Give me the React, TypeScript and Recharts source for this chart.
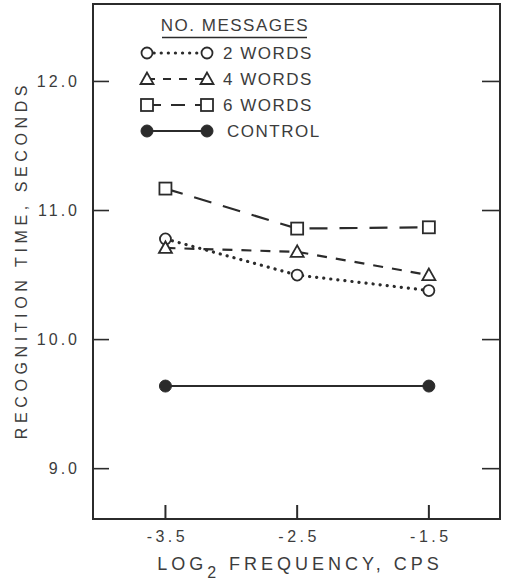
import { Line, LineChart, ReferenceArea, ReferenceLine, XAxis, YAxis } from "recharts";

// log2 frequency (cps) on x, recognition time (s) on y
const frequencies = [-3.5, -2.5, -1.5];
const twoWords = [10.78, 10.5, 10.38];
const fourWords = [10.71, 10.68, 10.5];
const sixWords = [11.17, 10.86, 10.87];
const control = [9.64, null, 9.64];

const xTicks = [-3.5, -2.5, -1.5];
const yTicks = [9.0, 10.0, 11.0, 12.0];
const xDomain = [-4.05, -0.96];
const yDomain = [8.61, 12.6];

const legendTitle = "NO. MESSAGES";
const seriesNames = ["2 WORDS", "4 WORDS", "6 WORDS", "CONTROL"];
const xTitle = ["LOG", "2", " FREQUENCY, CPS"];
const yTitle = "RECOGNITION TIME, SECONDS";

const INK = "#2b2b2b";
const TEXT = "#3c3c3c";
const FONT = '"Liberation Sans", Arial, sans-serif';
const PLOT_RIGHT = 500;

type MarkerKind = "circle" | "triangle" | "square" | "dot";

const series: Array<{
  key: string;
  name: string;
  marker: MarkerKind;
  dash?: string;
  legendDash?: string;
  width: number;
  cap: "round" | "butt";
}> = [
  { key: "two", name: seriesNames[0], marker: "circle", dash: "0.1 7", legendDash: "0.1 7", width: 3.2, cap: "round" },
  { key: "four", name: seriesNames[1], marker: "triangle", dash: "10 9", legendDash: "8 8", width: 2.2, cap: "butt" },
  { key: "six", name: seriesNames[2], marker: "square", dash: "18 12", legendDash: "14 10", width: 2.2, cap: "butt" },
  { key: "control", name: seriesNames[3], marker: "dot", width: 2, cap: "butt" },
];

const chartData = frequencies.map((f, i) => ({
  freq: f,
  two: twoWords[i],
  four: fourWords[i],
  six: sixWords[i],
  control: control[i],
}));

function Marker({ kind, cx, cy }: { kind: MarkerKind; cx?: number; cy?: number }) {
  if (cx == null || cy == null || Number.isNaN(cy)) return null;
  const common = { stroke: INK, strokeWidth: 1.8, fill: "#fff" };
  if (kind === "circle") return <circle cx={cx} cy={cy} r={5.5} {...common} />;
  if (kind === "square") return <rect x={cx - 6} y={cy - 6} width={12} height={12} {...common} />;
  if (kind === "triangle")
    return (
      <polygon
        points={`${cx},${cy - 6.5} ${cx - 6.5},${cy + 5} ${cx + 6.5},${cy + 5}`}
        {...common}
      />
    );
  return <circle cx={cx} cy={cy} r={6} fill={INK} stroke={INK} strokeWidth={1} />;
}

function LeftTick(props: any) {
  const x = Number(props.x);
  const y = Number(props.y);
  return (
    <g>
      <line x1={PLOT_RIGHT - 18} x2={PLOT_RIGHT} y1={y} y2={y} stroke={INK} strokeWidth={1.6} />
      <text x={x - 3} y={y} dy="0.36em" textAnchor="end" fontFamily={FONT} fontSize={16} letterSpacing={3} fill={TEXT}>
        {Number(props.payload.value).toFixed(1)}
      </text>
    </g>
  );
}

function BottomTick(props: any) {
  const x = Number(props.x);
  const y = Number(props.y);
  return (
    <text x={x + 2} y={y} dy="0.72em" textAnchor="middle" fontFamily={FONT} fontSize={16} letterSpacing={3.5} fill={TEXT}>
      {Number(props.payload.value).toFixed(1)}
    </text>
  );
}

// short inward marks cut from full-width reference lines
function YTickMark(props: any) {
  const left = Math.min(Number(props.x1), Number(props.x2));
  const y = Number(props.y1);
  return <line x1={left} x2={left + 16} y1={y} y2={y} stroke={INK} strokeWidth={1.6} />;
}

function XTickMark(props: any) {
  const bottom = Math.max(Number(props.y1), Number(props.y2));
  const x = Number(props.x1);
  return <line x1={x} x2={x} y1={bottom} y2={bottom - 14} stroke={INK} strokeWidth={2} />;
}

// legend and axis titles sit in an overlay svg on top of the chart
function Overlay() {
  return (
    <svg
      width={510}
      height={580}
      style={{ position: "absolute", left: 0, top: 0, pointerEvents: "none" }}
      fontFamily={FONT}
    >
      <text x={235} y={31} textAnchor="middle" fontSize={17} letterSpacing={1.5} fill={TEXT}>
        {legendTitle}
      </text>
      <line x1={162} x2={307} y1={37.5} y2={37.5} stroke={INK} strokeWidth={1.5} />
      {series.map((s, i) => {
        const y = 53 + i * 26;
        return (
          <g key={s.key}>
            <line
              x1={147}
              x2={207}
              y1={y}
              y2={y}
              stroke={INK}
              strokeWidth={s.width}
              strokeDasharray={s.legendDash}
              strokeLinecap={s.cap}
            />
            <Marker kind={s.marker} cx={147} cy={y} />
            <Marker kind={s.marker} cx={207} cy={y} />
            <text x={s.key === "control" ? 227 : 223} y={y + 6} fontSize={17} letterSpacing={1.5} fill={TEXT}>
              {s.name}
            </text>
          </g>
        );
      })}
      <text
        x={27}
        y={260}
        transform="rotate(-90, 27, 260)"
        textAnchor="middle"
        fontSize={16}
        letterSpacing={4.6}
        fill={TEXT}
      >
        {yTitle}
      </text>
      <text x={300} y={570} textAnchor="middle" fontSize={18} letterSpacing={4} fill={TEXT}>
        {xTitle[0]}
        <tspan dy={8} fontSize={16}>
          {xTitle[1]}
        </tspan>
        <tspan dy={-8}>{xTitle[2]}</tspan>
      </text>
    </svg>
  );
}

export default function App() {
  return (
    <div style={{ position: "absolute", left: 0, top: 0, width: 510, height: 580, background: "#fff" }}>
      <LineChart width={510} height={580} data={chartData} margin={{ top: 4, right: 10, bottom: 0, left: 0 }}>
        <XAxis
          dataKey="freq"
          type="number"
          domain={xDomain}
          ticks={xTicks}
          height={61}
          tickSize={0}
          tickMargin={11}
          axisLine={{ stroke: INK, strokeWidth: 2 }}
          tick={<BottomTick />}
        />
        <YAxis
          type="number"
          domain={yDomain}
          ticks={yTicks}
          width={93}
          tickSize={0}
          tickMargin={10}
          axisLine={{ stroke: INK, strokeWidth: 2 }}
          tick={<LeftTick />}
        />
        <ReferenceArea
          x1={xDomain[0]}
          x2={xDomain[1]}
          y1={yDomain[0]}
          y2={yDomain[1]}
          stroke={INK}
          strokeWidth={2}
          fill="none"
          fillOpacity={0}
          ifOverflow="visible"
        />
        {yTicks.map((v) => (
          <ReferenceLine key={`yt-${v}`} y={v} stroke={INK} shape={<YTickMark />} ifOverflow="visible" />
        ))}
        {xTicks.map((v) => (
          <ReferenceLine key={`xt-${v}`} x={v} stroke={INK} shape={<XTickMark />} ifOverflow="visible" />
        ))}
        {series.map((s) => (
          <Line
            key={s.key}
            dataKey={s.key}
            name={s.name}
            type="linear"
            stroke={INK}
            strokeWidth={s.width}
            strokeDasharray={s.dash}
            strokeLinecap={s.cap}
            connectNulls
            isAnimationActive={false}
            dot={(p: any) => <Marker key={`${s.key}-${p.index}`} kind={s.marker} cx={p.cx} cy={p.cy} />}
            activeDot={false}
          />
        ))}
      </LineChart>
      <Overlay />
    </div>
  );
}
